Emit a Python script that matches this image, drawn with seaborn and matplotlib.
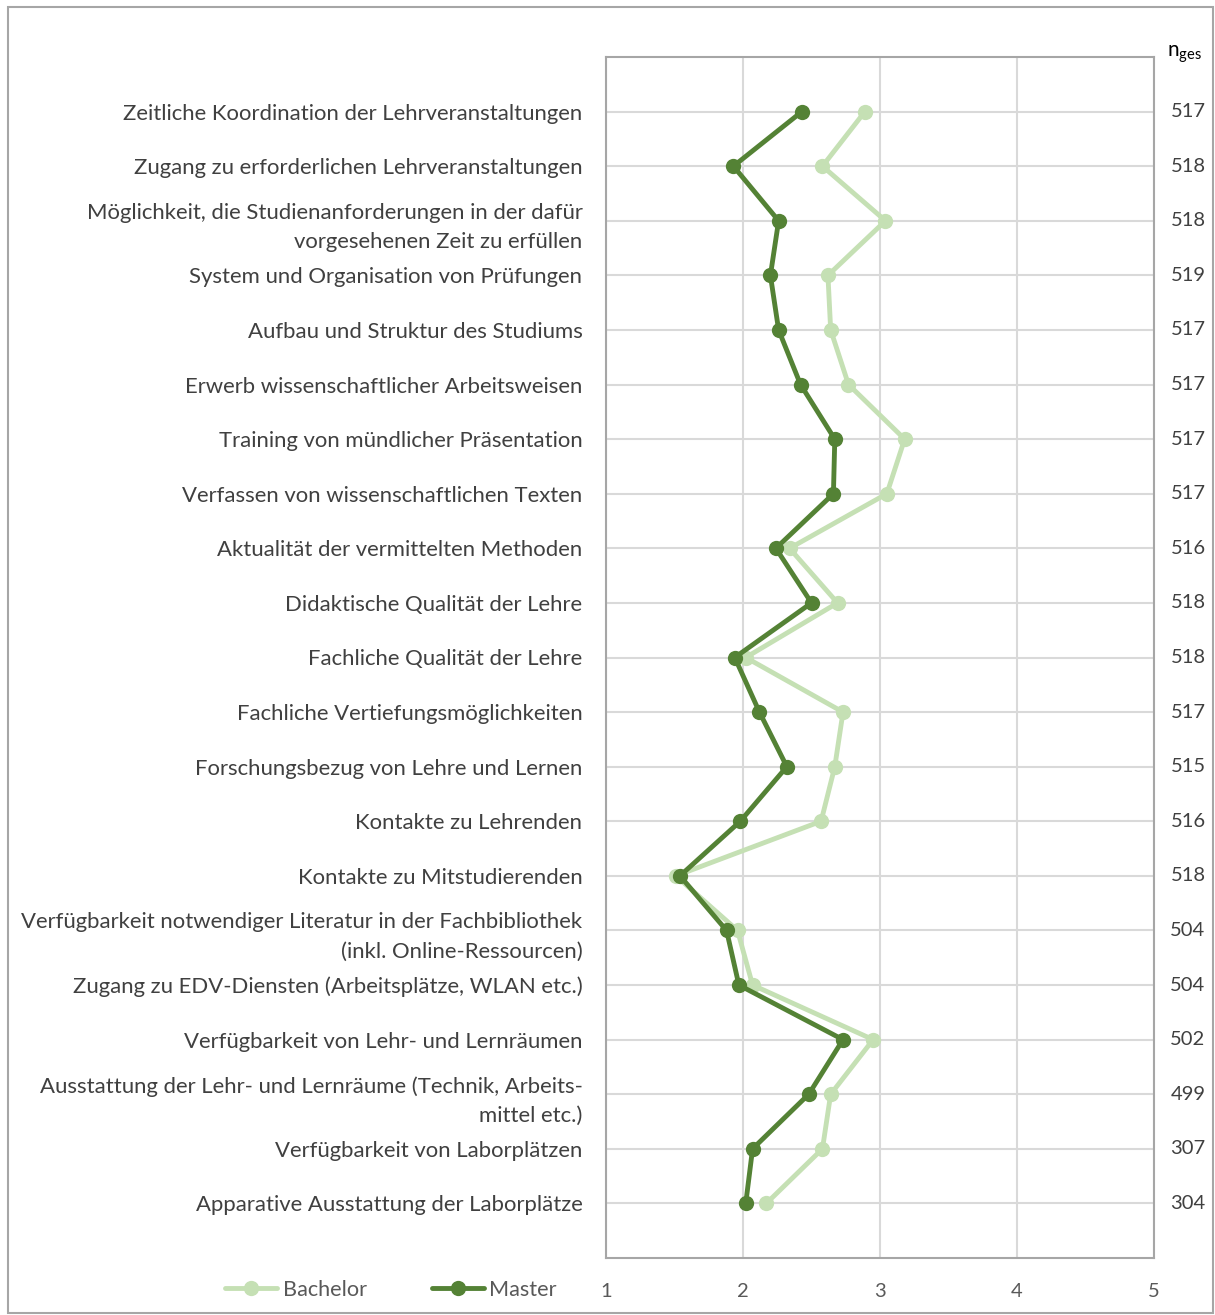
import matplotlib
matplotlib.use("Agg")
import matplotlib.pyplot as plt
import matplotlib.transforms as mtransforms
from matplotlib.patches import Rectangle
import seaborn as sns
import pandas as pd
import numpy as np

categories = [
    "Zeitliche Koordination der Lehrveranstaltungen",
    "Zugang zu erforderlichen Lehrveranstaltungen",
    "Möglichkeit, die Studienanforderungen in der dafür\nvorgesehenen Zeit zu erfüllen",
    "System und Organisation von Prüfungen",
    "Aufbau und Struktur des Studiums",
    "Erwerb wissenschaftlicher Arbeitsweisen",
    "Training von mündlicher Präsentation",
    "Verfassen von wissenschaftlichen Texten",
    "Aktualität der vermittelten Methoden",
    "Didaktische Qualität der Lehre",
    "Fachliche Qualität der Lehre",
    "Fachliche Vertiefungsmöglichkeiten",
    "Forschungsbezug von Lehre und Lernen",
    "Kontakte zu Lehrenden",
    "Kontakte zu Mitstudierenden",
    "Verfügbarkeit notwendiger Literatur in der Fachbibliothek\n(inkl. Online-Ressourcen)",
    "Zugang zu EDV-Diensten (Arbeitsplätze, WLAN etc.)",
    "Verfügbarkeit von Lehr- und Lernräumen",
    "Ausstattung der Lehr- und Lernräume (Technik, Arbeits-\nmittel etc.)",
    "Verfügbarkeit von Laborplätzen",
    "Apparative Ausstattung der Laborplätze",
]
bachelor = [2.89, 2.58, 3.04, 2.62, 2.64, 2.77, 3.18, 3.05, 2.34, 2.69, 2.02,
            2.73, 2.67, 2.57, 1.51, 1.96, 2.07, 2.95, 2.64, 2.58, 2.17]
master = [2.43, 1.93, 2.26, 2.20, 2.26, 2.42, 2.67, 2.66, 2.24, 2.50, 1.94,
          2.12, 2.32, 1.98, 1.54, 1.88, 1.97, 2.73, 2.48, 2.07, 2.02]
n_ges = [517, 518, 518, 519, 517, 517, 517, 517, 516, 518, 518,
         517, 515, 516, 518, 504, 504, 502, 499, 307, 304]
series_names = ["Bachelor", "Master"]
x_ticks = [1, 2, 3, 4, 5]

sns.set_theme(style="white")
plt.rcParams["font.family"] = ["Lato", "DejaVu Sans"]

c_bach = "#c5e0b4"
c_mast = "#548235"
txt = "#404040"

rows = list(range(len(categories)))
df = pd.DataFrame({
    "row": rows * 2,
    "value": bachelor + master,
    "series": [series_names[0]] * len(rows) + [series_names[1]] * len(rows),
})

fig = plt.figure(figsize=(12.15, 13.15), dpi=100)
ax = fig.add_axes([606 / 1215, 1 - 1258 / 1315, 548 / 1215, (1258 - 57) / 1315])

sns.lineplot(data=df, x="value", y="row", hue="series", palette=[c_bach, c_mast],
             sort=False, orient="y", estimator=None, marker="o", markersize=11,
             markeredgewidth=0, linewidth=3.5, ax=ax, legend=True, zorder=3)

ax.set_xlim(1, 5)
ax.set_ylim(len(categories), -1)
ax.set_xticks(x_ticks)
ax.set_xticklabels([str(t) for t in x_ticks])
ax.set_yticks(rows)
ax.set_yticklabels(categories, fontsize=15.9, color=txt, linespacing=1.6)
ax.tick_params(axis="x", length=0, pad=18, labelsize=14.5, labelcolor="#595959")
ax.tick_params(axis="y", length=0, pad=17)
ax.set_xlabel("")
ax.set_ylabel("")
ax.grid(True, color="#d9d9d9", linewidth=1.5, zorder=0)
ax.set_axisbelow(True)
for s in ax.spines.values():
    s.set_color("#a6a6a6")
    s.set_linewidth(1.5)

trans = mtransforms.blended_transform_factory(ax.transAxes, ax.transData)
for r, n in zip(rows, n_ges):
    ax.text(1.062, r, str(n), transform=trans, ha="center", va="center",
            fontsize=14.5, color=txt)
ax.text(1.055, -1.05, r"n$_{\mathregular{ges}}$", transform=trans, ha="center", va="center",
        fontsize=15, color="#000000")

handles, labels = ax.get_legend_handles_labels()
ax.get_legend().remove()
leg = fig.legend(handles, labels, loc="center left", bbox_to_anchor=(0.1695, 0.019),
                 ncol=2, frameon=False, fontsize=15.6, handlelength=2.4,
                 columnspacing=3.0, handletextpad=0.25)
for t in leg.get_texts():
    t.set_color("#595959")

fig.patches.append(Rectangle((8 / 1215, 2 / 1315), 1205 / 1215, 1306 / 1315,
                             transform=fig.transFigure, fill=False,
                             edgecolor="#a6a6a6", linewidth=1.5))

fig.savefig("out.png", dpi=100)
